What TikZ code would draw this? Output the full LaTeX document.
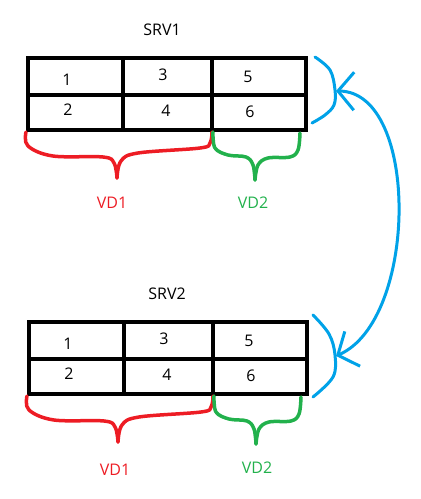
\documentclass[tikz,border=0pt]{standalone}
\usepackage{fontspec}
\setmainfont{Open Sans}
\usetikzlibrary{arrows.meta}
\definecolor{paintred}{HTML}{ED1C24}
\definecolor{paintgreen}{HTML}{22B14C}
\definecolor{paintblue}{HTML}{00A2E8}
\tikzset{
    grid/.style={line width=4.5pt, line cap=rect},
    label/.style={font=\fontsize{16}{18}\selectfont},
    num/.style={font=\fontsize{16}{18}\selectfont},
    vdbrace/.style={line width=3.5pt, line cap=round, line join=round},
    link/.style={paintblue, line width=3pt, line cap=round,
        {Straight Barb[length=16pt, width=38pt, line width=3pt]}-{Straight Barb[length=16pt, width=38pt, line width=3pt]}},
    bracket/.style={paintblue, line width=3pt, line cap=round}
}
\begin{document}
\begin{tikzpicture}[x=1pt, y=-1pt]
    \useasboundingbox (0,0) rectangle (421,499);
    \foreach \s/\dx/\dy in {1/0/0, 2/1/264} {
        \node[label] (srv\s) at (162+5*\dx, 30+\dy) {SRV\s};
        % the 3x2 table
        \draw[grid] (28+\dx, 58+\dy) rectangle (306+\dx, 130+\dy);
        \draw[grid] (28+\dx, 95+\dy) -- (306+\dx, 95+\dy);
        \foreach \x in {123, 212} {\draw[grid] (\x+\dx, 58+\dy) -- (\x+\dx, 130+\dy);}
        \foreach \n/\x/\y in {1/67/80, 3/163/75, 5/248/77, 2/68/110, 4/166/111, 6/250/112} {
            \node[num] (c\s-\n) at (\x+\dx, \y+\dy) {\n};
        }
        % braces under the disks
        \draw[vdbrace, paintred] plot[smooth, tension=0.6] coordinates {
            (26+\dx,132+\dy) (28+\dx,146+\dy) (53+\dx,156+\dy) (103+\dx,157+\dy)
            (114+\dx,163+\dy) (117+\dx,178+\dy)};
        \draw[vdbrace, paintred] plot[smooth, tension=0.6] coordinates {
            (117+\dx,178+\dy) (121+\dx,161+\dy) (138+\dx,153+\dy) (200+\dx,148+\dy)
            (210+\dx,143+\dy) (212+\dx,132+\dy)};
        \draw[vdbrace, paintgreen] plot[smooth, tension=0.6] coordinates {
            (213+\dx,132+\dy) (215+\dx,148+\dy) (228+\dx,155+\dy) (246+\dx,157+\dy)
            (253+\dx,165+\dy) (255+\dx,180+\dy)};
        \draw[vdbrace, paintgreen] plot[smooth, tension=0.6] coordinates {
            (255+\dx,180+\dy) (258+\dx,165+\dy) (268+\dx,158+\dy) (290+\dx,157+\dy)
            (298+\dx,150+\dy) (300+\dx,133+\dy)};
        \node[label, text=paintred] (vd1-\s) at (112+3*\dx, 203+\dy+3*\dx) {VD1};
        \node[label, text=paintgreen] (vd2-\s) at (253+4*\dx, 203+\dy+1*\dx) {VD2};
    }
    % replication between the two servers
    \draw[bracket] plot[smooth, tension=0.6] coordinates {
        (315,57) (330,70) (335,90) (334,105) (325,115) (312,123)};
    \draw[bracket] plot[smooth, tension=0.6] coordinates {
        (313,315) (329,334) (335,355) (333,377) (313,397)};
    \coordinate (tip1) at (336,91);
    \coordinate (tip2) at (336,356);
    \draw[link] (tip1) .. controls (420,92) and (418,320) .. (tip2);
\end{tikzpicture}
\end{document}
